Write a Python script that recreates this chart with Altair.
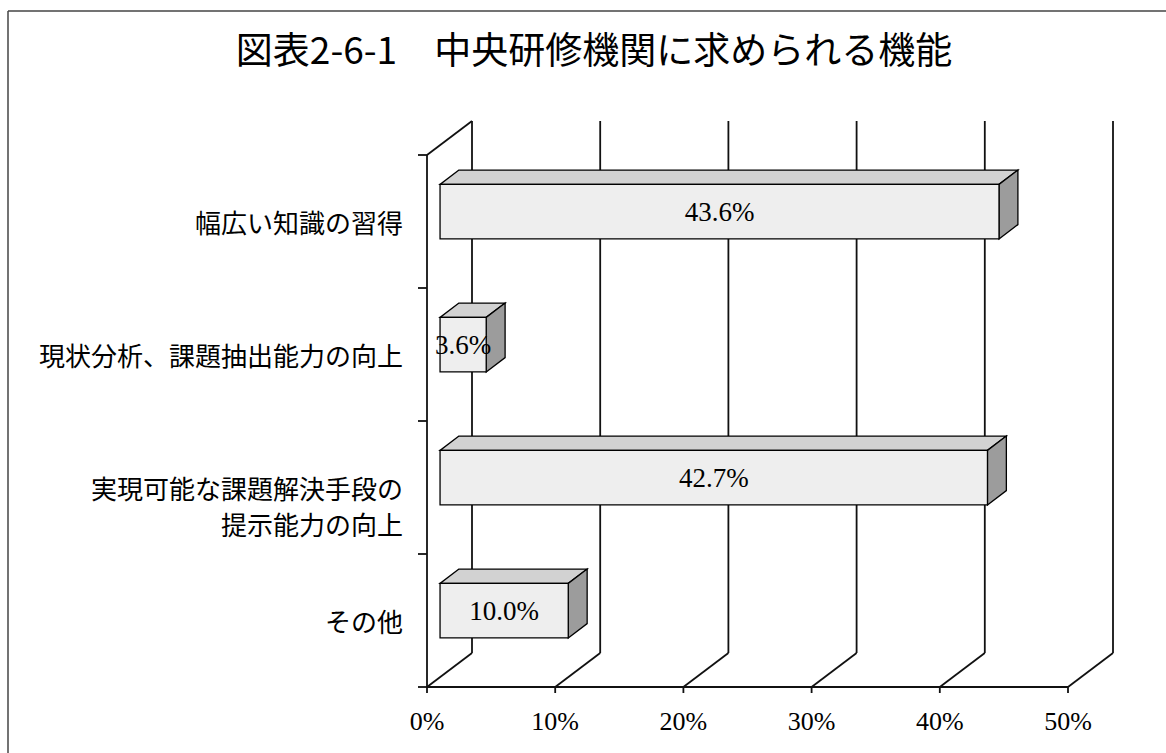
import altair as alt
import pandas as pd

# ---------------- data ----------------
categories = [
    "幅広い知識の習得",
    "現状分析、課題抽出能力の向上",
    "実現可能な課題解決手段の\n提示能力の向上",
    "その他",
]
values = [43.6, 3.6, 42.7, 10.0]
value_labels = ["43.6%", "3.6%", "42.7%", "10.0%"]
tick_values = [0, 10, 20, 30, 40, 50]
tick_labels = ["0%", "10%", "20%", "30%", "40%", "50%"]
title_text = "図表2-6-1　中央研修機関に求められる機能"

# ---------------- geometry (pseudo 3-D) ----------------
W, H = 686, 566                 # plot area (front axis -> back wall)
PX_PER_PCT = 12.82
X_MAX = W / PX_PER_PCT          # x domain in percent units
N = len(categories)
BAND_PX = 133
DEPTH_Y = 34 / BAND_PX          # wall depth in band units
DEPTH_X = 45 / PX_PER_PCT       # wall depth in percent units
Y_MAX = N + DEPTH_Y
BAR_FRONT, BAR_BACK = 0.29, 0.71
BAR_THICK = 0.41
TICK_X = 6 / BAND_PX            # bottom tick length (band units)
TICK_Y = 9 / PX_PER_PCT         # left tick length (percent units)

xs = alt.Scale(domain=[0, X_MAX], nice=False, zero=False)
ys = alt.Scale(domain=[0, Y_MAX], nice=False, zero=False)

# wall / floor / axis lines
line_rows = []
for t in tick_values:
    line_rows.append(dict(x1=t + DEPTH_X, y1=DEPTH_Y, x2=t + DEPTH_X, y2=N + DEPTH_Y))
    line_rows.append(dict(x1=t, y1=0, x2=t + DEPTH_X, y2=DEPTH_Y))
    line_rows.append(dict(x1=t, y1=0, x2=t, y2=-TICK_X))
line_rows.append(dict(x1=0, y1=0, x2=0, y2=N))
line_rows.append(dict(x1=0, y1=N, x2=DEPTH_X, y2=N + DEPTH_Y))
line_rows.append(dict(x1=0, y1=0, x2=tick_values[-1], y2=0))
for k in range(N + 1):
    line_rows.append(dict(x1=-TICK_Y, y1=k, x2=0, y2=k))
lines_df = pd.DataFrame(line_rows)

tick_df = pd.DataFrame({"t": tick_values, "lab": tick_labels, "ty": [0] * len(tick_values)})

fdx = BAR_FRONT * DEPTH_X
fdy = BAR_FRONT * DEPTH_Y
ddx = (BAR_BACK - BAR_FRONT) * DEPTH_X
ddy = (BAR_BACK - BAR_FRONT) * DEPTH_Y

bar_rows, top_rows, side_rows, cat_rows = [], [], [], []
for i, (cat, v, lab) in enumerate(zip(categories, values, value_labels)):
    c = N - i - 0.5
    x0, x1 = fdx, v + fdx
    y0, y1 = c + fdy - BAR_THICK / 2, c + fdy + BAR_THICK / 2
    bar_rows.append(dict(bar=i, fx0=x0, fx1=x1, fy0=y0, fy1=y1,
                         lx=(x0 + x1) / 2, ly=(y0 + y1) / 2, label=lab))
    top_rows.append(dict(bar=i, y=y1, x=x0, x2=x1))
    top_rows.append(dict(bar=i, y=y1 + ddy, x=x0 + ddx, x2=x1 + ddx))
    side_rows.append(dict(bar=i, x=x1, y=y0, y2=y1))
    side_rows.append(dict(bar=i, x=x1 + ddx, y=y0 + ddy, y2=y1 + ddy))
    cat_rows.append(dict(category=cat, cy=c))

bars_df = pd.DataFrame(bar_rows)
top_df = pd.DataFrame(top_rows)
side_df = pd.DataFrame(side_rows)
cat_df = pd.DataFrame(cat_rows)
title_df = pd.DataFrame({"title": [title_text]})
one_df = pd.DataFrame({"a": [0]})

LINE = "#111111"

lines = alt.Chart(lines_df).mark_rule(color=LINE, strokeWidth=1.8).encode(
    x=alt.X("x1:Q", scale=xs, axis=None),
    x2="x2:Q",
    y=alt.Y("y1:Q", scale=ys, axis=None),
    y2="y2:Q",
)

tick_text = alt.Chart(tick_df).mark_text(
    font="Liberation Serif", fontSize=26, color="black", align="center",
    baseline="middle", dy=35
).encode(
    x=alt.X("t:Q", scale=xs, axis=None),
    y=alt.Y("ty:Q", scale=ys, axis=None),
    text="lab:N",
)

tops = alt.Chart(top_df).mark_area(
    orient="horizontal", fill="#d2d2d2", stroke="black", strokeWidth=1.3
).encode(
    y=alt.Y("y:Q", scale=ys, axis=None),
    x=alt.X("x:Q", scale=xs, axis=None, stack=False),
    x2="x2:Q",
    detail="bar:N",
)

sides = alt.Chart(side_df).mark_area(
    orient="vertical", fill="#9c9c9c", stroke="black", strokeWidth=1.3
).encode(
    x=alt.X("x:Q", scale=xs, axis=None),
    y=alt.Y("y:Q", scale=ys, axis=None, stack=False),
    y2="y2:Q",
    detail="bar:N",
)

fronts = alt.Chart(bars_df).mark_rect(
    fill="#eeeeee", stroke="black", strokeWidth=1.3
).encode(
    x=alt.X("fx0:Q", scale=xs, axis=None),
    x2="fx1:Q",
    y=alt.Y("fy0:Q", scale=ys, axis=None),
    y2="fy1:Q",
)

bar_text = alt.Chart(bars_df).mark_text(
    font="Liberation Serif", fontSize=27, color="black", align="center", baseline="middle", dy=1
).encode(
    x=alt.X("lx:Q", scale=xs, axis=None),
    y=alt.Y("ly:Q", scale=ys, axis=None),
    text="label:N",
)

cat_text = alt.Chart(cat_df).mark_text(
    font="Noto Sans CJK JP", fontSize=26, color="black", align="right",
    baseline="middle", lineBreak="\n", lineHeight=36, dy=3
).encode(
    x=alt.value(-24),
    y=alt.Y("cy:Q", scale=ys, axis=None),
    text="category:N",
)

title = alt.Chart(title_df).mark_text(
    font="Noto Sans CJK JP", fontSize=37, color="black", align="center", baseline="middle"
).encode(
    x=alt.value(167), y=alt.value(-68), text="title:N"
)

frame_top = alt.Chart(one_df).mark_rule(color="#444444", strokeWidth=1.5).encode(
    x=alt.value(-419), x2=alt.value(739), y=alt.value(-110)
)
frame_left = alt.Chart(one_df).mark_rule(color="#444444", strokeWidth=1.5).encode(
    x=alt.value(-419), y=alt.value(-110), y2=alt.value(632)
)

chart = alt.layer(
    lines, tick_text, tops, sides, fronts, bar_text, cat_text, title, frame_top, frame_left
).properties(
    width=W,
    height=H,
    padding={"left": 427, "top": 121, "right": 1166 - 427 - W, "bottom": 753 - 121 - H},
    autosize=alt.AutoSizeParams(type="none"),
).configure(background="white").configure_view(stroke=None, strokeWidth=0)

chart.save("out.html", embed_options={"renderer": "svg", "actions": False})
